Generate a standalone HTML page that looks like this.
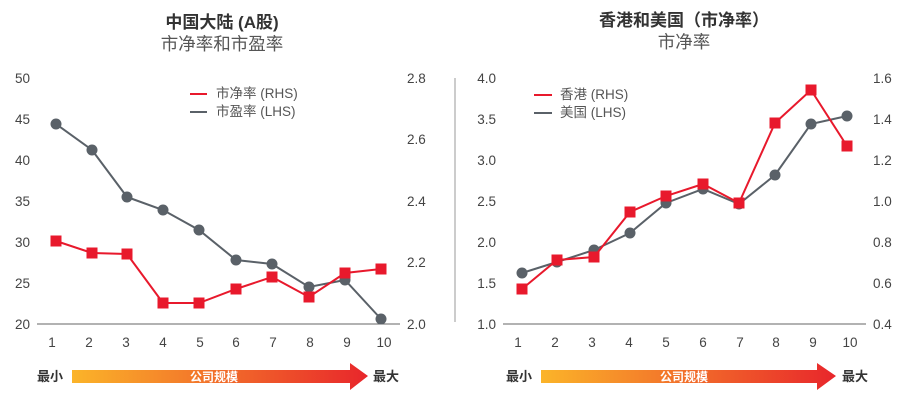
<!DOCTYPE html>
<html><head><meta charset="utf-8"><style>
body{margin:0;background:#fff}
svg{display:block}
text{font-family:"Liberation Sans","Noto Sans CJK SC",sans-serif}
</style></head><body>
<svg width="904" height="400" viewBox="0 0 904 400" xmlns="http://www.w3.org/2000/svg">
<defs>
<linearGradient id="g" x1="0" x2="1" y1="0" y2="0"><stop offset="0" stop-color="#fbb429"/><stop offset="1" stop-color="#e8262b"/></linearGradient>
</defs>
<text x="222" y="28" text-anchor="middle" font-weight="bold" font-size="17" fill="#333">中国大陆 (A股)</text>
<text x="222" y="50" text-anchor="middle" font-size="17.5" fill="#555">市净率和市盈率</text>
<text x="684" y="26" text-anchor="middle" font-weight="bold" font-size="17" fill="#333">香港和美国（市净率）</text>
<text x="684" y="48" text-anchor="middle" font-size="17.5" fill="#555">市净率</text>
<line x1="455" y1="78" x2="455" y2="322" stroke="#999" stroke-width="1"/>
<!-- Left chart -->
<g font-size="13.5" fill="#444">
<g text-anchor="end">
<text x="30" y="83">50</text><text x="30" y="124">45</text><text x="30" y="165">40</text><text x="30" y="206">35</text><text x="30" y="247">30</text><text x="30" y="288">25</text><text x="30" y="329">20</text>
</g>
<text x="407" y="83">2.8</text><text x="407" y="144">2.6</text><text x="407" y="206">2.4</text><text x="407" y="267">2.2</text><text x="407" y="329">2.0</text>
<g text-anchor="middle">
<text x="52" y="347">1</text><text x="89" y="347">2</text><text x="126" y="347">3</text><text x="163" y="347">4</text><text x="200" y="347">5</text><text x="236" y="347">6</text><text x="273" y="347">7</text><text x="310" y="347">8</text><text x="347" y="347">9</text><text x="384" y="347">10</text>
</g>
</g>
<line x1="37" y1="324" x2="400" y2="324" stroke="#666" stroke-width="1"/>
<line x1="190" y1="94" x2="207" y2="94" stroke="#e8192c" stroke-width="2"/>
<line x1="190" y1="112" x2="207" y2="112" stroke="#5a6168" stroke-width="2"/>
<text x="216" y="98" font-size="13.5" fill="#555">市净率 (RHS)</text>
<text x="216" y="116" font-size="13.5" fill="#555">市盈率 (LHS)</text>
<polyline fill="none" stroke="#5a6168" stroke-width="2" points="56,124 92,150 127,197 163,210 199,230 236,260 272,264 309,287 345,280 381,319"/>
<g fill="#5a6168"><circle cx="56" cy="124" r="5.5"/><circle cx="92" cy="150" r="5.5"/><circle cx="127" cy="197" r="5.5"/><circle cx="163" cy="210" r="5.5"/><circle cx="199" cy="230" r="5.5"/><circle cx="236" cy="260" r="5.5"/><circle cx="272" cy="264" r="5.5"/><circle cx="309" cy="287" r="5.5"/><circle cx="345" cy="280" r="5.5"/><circle cx="381" cy="319" r="5.5"/></g>
<polyline fill="none" stroke="#e8192c" stroke-width="2" points="56,241 92,253 127,254 163,303 199,303 236,289 272,277 309,297 345,273 381,269"/>
<g fill="#e8192c"><rect x="50.5" y="235.5" width="11" height="11"/><rect x="86.5" y="247.5" width="11" height="11"/><rect x="121.5" y="248.5" width="11" height="11"/><rect x="157.5" y="297.5" width="11" height="11"/><rect x="193.5" y="297.5" width="11" height="11"/><rect x="230.5" y="283.5" width="11" height="11"/><rect x="266.5" y="271.5" width="11" height="11"/><rect x="303.5" y="291.5" width="11" height="11"/><rect x="339.5" y="267.5" width="11" height="11"/><rect x="375.5" y="263.5" width="11" height="11"/></g>
<text x="37" y="381" font-size="13" font-weight="bold" fill="#333">最小</text>
<polygon points="72,370 350,370 350,363 368,376 350,390 350,383 72,383" fill="url(#g)"/>
<text x="214" y="381" font-size="12" font-weight="bold" fill="#fff" text-anchor="middle">公司规模</text>
<text x="373" y="381" font-size="13" font-weight="bold" fill="#333">最大</text>
<!-- Right chart -->
<g font-size="13.5" fill="#444">
<g text-anchor="end">
<text x="496" y="83">4.0</text><text x="496" y="124">3.5</text><text x="496" y="165">3.0</text><text x="496" y="206">2.5</text><text x="496" y="247">2.0</text><text x="496" y="288">1.5</text><text x="496" y="329">1.0</text>
</g>
<text x="873" y="83">1.6</text><text x="873" y="124">1.4</text><text x="873" y="165">1.2</text><text x="873" y="206">1.0</text><text x="873" y="247">0.8</text><text x="873" y="288">0.6</text><text x="873" y="329">0.4</text>
<g text-anchor="middle">
<text x="518" y="347">1</text><text x="555" y="347">2</text><text x="592" y="347">3</text><text x="629" y="347">4</text><text x="666" y="347">5</text><text x="703" y="347">6</text><text x="740" y="347">7</text><text x="776" y="347">8</text><text x="813" y="347">9</text><text x="850" y="347">10</text>
</g>
</g>
<line x1="503" y1="324" x2="866" y2="324" stroke="#666" stroke-width="1"/>
<line x1="534" y1="95" x2="552" y2="95" stroke="#e8192c" stroke-width="2"/>
<line x1="534" y1="113" x2="552" y2="113" stroke="#5a6168" stroke-width="2"/>
<text x="560" y="99" font-size="13.5" fill="#555">香港 (RHS)</text>
<text x="560" y="117" font-size="13.5" fill="#555">美国 (LHS)</text>
<polyline fill="none" stroke="#5a6168" stroke-width="2" points="522,273 557,262 594,250 630,233 666,203 703,189 739,204 775,175 811,124 847,116"/>
<g fill="#5a6168"><circle cx="522" cy="273" r="5.5"/><circle cx="557" cy="262" r="5.5"/><circle cx="594" cy="250" r="5.5"/><circle cx="630" cy="233" r="5.5"/><circle cx="666" cy="203" r="5.5"/><circle cx="703" cy="189" r="5.5"/><circle cx="739" cy="204" r="5.5"/><circle cx="775" cy="175" r="5.5"/><circle cx="811" cy="124" r="5.5"/><circle cx="847" cy="116" r="5.5"/></g>
<polyline fill="none" stroke="#e8192c" stroke-width="2" points="522,289 557,260 594,257 630,212 666,196 703,184 739,203 775,123 811,90 847,146"/>
<g fill="#e8192c"><rect x="516.5" y="283.5" width="11" height="11"/><rect x="551.5" y="254.5" width="11" height="11"/><rect x="588.5" y="251.5" width="11" height="11"/><rect x="624.5" y="206.5" width="11" height="11"/><rect x="660.5" y="190.5" width="11" height="11"/><rect x="697.5" y="178.5" width="11" height="11"/><rect x="733.5" y="197.5" width="11" height="11"/><rect x="769.5" y="117.5" width="11" height="11"/><rect x="805.5" y="84.5" width="11" height="11"/><rect x="841.5" y="140.5" width="11" height="11"/></g>
<text x="506" y="381" font-size="13" font-weight="bold" fill="#333">最小</text>
<polygon points="541,370 817,370 817,363 836,376 817,390 817,383 541,383" fill="url(#g)"/>
<text x="684" y="381" font-size="12" font-weight="bold" fill="#fff" text-anchor="middle">公司规模</text>
<text x="842" y="381" font-size="13" font-weight="bold" fill="#333">最大</text>
</svg>
</body></html>
